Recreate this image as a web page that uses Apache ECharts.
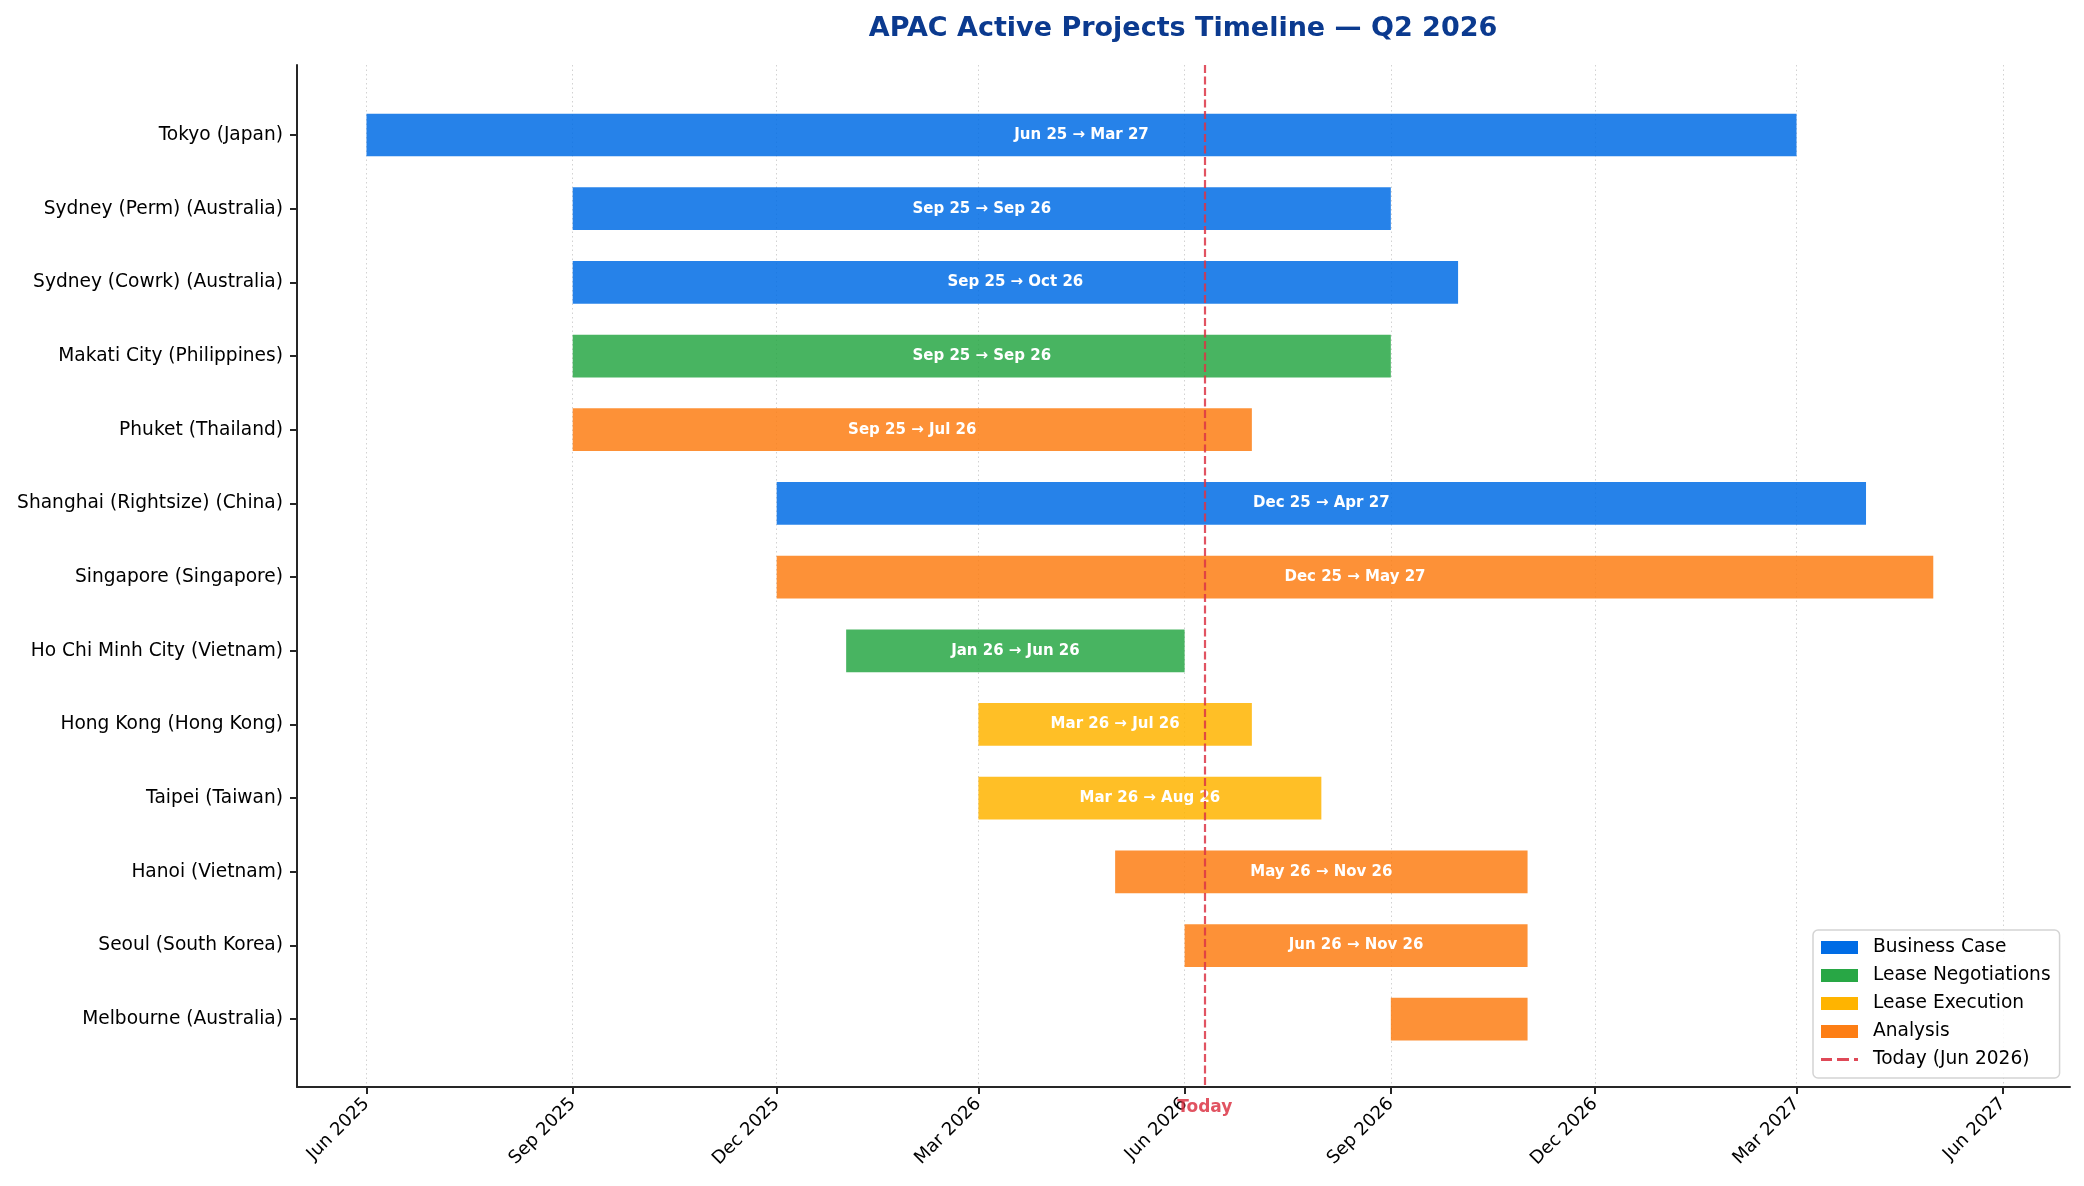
<!DOCTYPE html>
<html>
<head>
<meta charset="utf-8">
<title>APAC Active Projects Timeline</title>
<script src="https://cdn.jsdelivr.net/npm/echarts@6/dist/echarts.min.js"></script>
<style>
  html, body { margin: 0; padding: 0; background: #fff; }
  #chart { width: 2084px; height: 1186px; }
</style>
</head>
<body>
<div id="chart"></div>
<script>
// project rows, top to bottom
const projects = [
  'Tokyo (Japan)', 'Sydney (Perm) (Australia)', 'Sydney (Cowrk) (Australia)',
  'Makati City (Philippines)', 'Phuket (Thailand)', 'Shanghai (Rightsize) (China)',
  'Singapore (Singapore)', 'Ho Chi Minh City (Vietnam)', 'Hong Kong (Hong Kong)',
  'Taipei (Taiwan)', 'Hanoi (Vietnam)', 'Seoul (South Korea)', 'Melbourne (Australia)'
]
const starts = ['2025-06', '2025-09', '2025-09', '2025-09', '2025-09', '2025-12', '2025-12',
  '2026-01', '2026-03', '2026-03', '2026-05', '2026-06', '2026-09']
const ends = ['2027-03', '2026-09', '2026-10', '2026-09', '2026-07', '2027-04', '2027-05',
  '2026-06', '2026-07', '2026-08', '2026-11', '2026-11', '2026-11']
const stages = ['Business Case', 'Business Case', 'Business Case', 'Lease Negotiations', 'Analysis',
  'Business Case', 'Analysis', 'Lease Negotiations', 'Lease Execution', 'Lease Execution',
  'Analysis', 'Analysis', 'Analysis']

const stageNames = ['Business Case', 'Lease Negotiations', 'Lease Execution', 'Analysis']
const stageColors = ['#006ce5', '#28a745', '#ffb400', '#fd7e14']

const quarterTicks = ['2025-06', '2025-09', '2025-12', '2026-03', '2026-06',
  '2026-09', '2026-12', '2027-03', '2027-06']
const axisStart = '2025-05'
const axisEnd = '2027-07'
const today = '2026-06-10'
const todayName = 'Today (Jun 2026)'

const MONTHS = ['Jan', 'Feb', 'Mar', 'Apr', 'May', 'Jun', 'Jul', 'Aug', 'Sep', 'Oct', 'Nov', 'Dec']
const FONT = '"DejaVu Sans", sans-serif'
const INK = '#262626'
const RED = '#dc3545'

function ts(s) {
  const p = s.split('-')
  return new Date(+p[0], +p[1] - 1, p[2] ? +p[2] : 1).getTime()
}
function shortLabel(t) {
  const d = new Date(t)
  return MONTHS[d.getMonth()] + ' ' + String(d.getFullYear()).slice(2)
}

const rows = projects.map((p, i) => i)
const barData = projects.map((p, i) => [i, ts(starts[i]), ts(ends[i]), stageNames.indexOf(stages[i])])
const tickValues = quarterTicks.map(ts)

function renderBar(params, api) {
  const row = api.value(0)
  const t0 = api.value(1)
  const t1 = api.value(2)
  const p0 = api.coord([t0, row])
  const p1 = api.coord([t1, row])
  const h = api.size([0, 0.58])[1]
  const children = [{
    type: 'rect',
    shape: { x: p0[0], y: p0[1] - h / 2, width: p1[0] - p0[0], height: h },
    style: { fill: stageColors[api.value(3)], opacity: 0.85 }
  }]
  // short bars get no label
  if ((t1 - t0) / 86400000 > 90) {
    children.push({
      type: 'text',
      x: (p0[0] + p1[0]) / 2,
      y: p0[1],
      style: {
        text: shortLabel(t0) + ' \u2192 ' + shortLabel(t1),
        fill: '#fff',
        font: 'bold 15px ' + FONT,
        align: 'center',
        verticalAlign: 'middle'
      }
    })
  }
  return { type: 'group', children: children }
}

const chart = echarts.init(document.getElementById('chart'))

const series = [{
  name: 'projects',
  type: 'custom',
  renderItem: renderBar,
  encode: { x: [1, 2], y: 0 },
  data: barData,
  z: 2
}]
stageNames.forEach((n, i) => {
  series.push({
    name: n,
    type: 'custom',
    renderItem: () => null,
    itemStyle: { color: stageColors[i] },
    data: []
  })
})
series.push({
  name: todayName,
  type: 'line',
  data: [],
  symbol: 'none',
  itemStyle: { color: RED, opacity: 0.9 },
  lineStyle: { color: RED, type: [8, 3.5], width: 2.2, opacity: 0.85 },
  markLine: {
    silent: true,
    symbol: ['none', 'none'],
    data: [{ xAxis: ts(today) }],
    lineStyle: { color: RED, type: [8, 3.5], width: 2.2, opacity: 0.85 },
    label: {
      show: true,
      formatter: 'Today',
      position: 'end',
      distance: 12,
      color: RED,
      fontWeight: 'bold',
      fontSize: 17,
      fontFamily: FONT
    },
    z: 5
  }
})

chart.setOption({
  animation: false,
  backgroundColor: '#fff',
  title: {
    text: 'APAC Active Projects Timeline \u2014 Q2 2026',
    left: 1178,
    top: 10,
    textAlign: 'center',
    textStyle: { fontSize: 27, fontWeight: 'bold', color: '#0b3a8f', fontFamily: FONT }
  },
  legend: {
    orient: 'vertical',
    left: 1813,
    top: 930,
    data: stageNames.map(n => ({ name: n, icon: 'rect' })).concat([{
      name: todayName,
      icon: 'path://M0,0h11v3h-11zM16,0h12v3h-12zM33,0h4v3h-4z'
    }]),
    symbolKeepAspect: true,
    itemWidth: 37,
    itemHeight: 13,
    itemGap: 9,
    padding: [8, 9, 9, 8],
    borderColor: '#d4d4d4',
    borderWidth: 1.5,
    borderRadius: 5,
    backgroundColor: 'rgba(255,255,255,0.85)',
    textStyle: { fontSize: 18.6, fontFamily: FONT, color: '#000', lineHeight: 18, padding: [0, 0, 0, 10] }
  },
  grid: { left: 297, right: 14, top: 65, bottom: 99, containLabel: false },
  xAxis: {
    type: 'value',
    min: ts(axisStart),
    max: ts(axisEnd),
    axisLine: { onZero: false, lineStyle: { color: INK, width: 2 } },
    axisTick: { customValues: tickValues, length: 7, lineStyle: { color: INK, width: 2 } },
    axisLabel: {
      customValues: tickValues,
      formatter: v => { const d = new Date(v); return MONTHS[d.getMonth()] + ' ' + d.getFullYear() },
      rotate: 45,
      margin: 14,
      fontSize: 18,
      color: '#000',
      fontFamily: FONT
    },
    splitLine: { show: true, lineStyle: { type: [1.5, 3], color: '#d2d2d2', width: 1 } }
  },
  yAxis: {
    type: 'value',
    min: -0.95,
    max: 12.92,
    inverse: true,
    axisLine: { show: true, onZero: false, lineStyle: { color: INK, width: 2 } },
    axisTick: { show: true, customValues: rows, length: 7, lineStyle: { color: INK, width: 2 } },
    axisLabel: {
      customValues: rows,
      formatter: v => projects[v],
      margin: 14,
      fontSize: 18.6,
      color: '#000',
      fontFamily: FONT
    },
    splitLine: { show: false }
  },
  series: series
})
</script>
</body>
</html>
